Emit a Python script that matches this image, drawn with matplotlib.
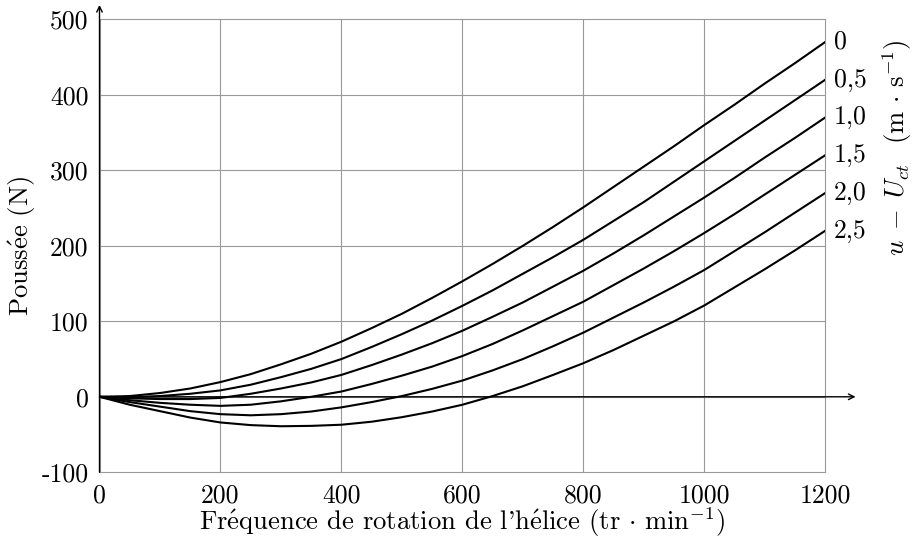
import matplotlib
matplotlib.use("Agg")
import matplotlib.pyplot as plt
import numpy as np

plt.rcParams['mathtext.fontset'] = 'cm'
plt.rcParams['font.family'] = ['cmr10', 'DejaVu Serif']

# Data
freq = [0, 50, 100, 150, 200, 250, 300, 350, 400, 450, 500, 550, 600,
        650, 700, 750, 800, 850, 900, 950, 1000, 1050, 1100, 1150, 1200]
speed_labels = ["0", "0,5", "1,0", "1,5", "2,0", "2,5"]
thrust_u00 = [0, 1, 5, 11, 19.5, 30, 43, 57, 73, 91, 110, 131, 153,
              176, 200, 225, 251, 278, 305, 332, 360, 387, 415, 442, 470]
thrust_u05 = [0, -0.5, 1, 4, 8.5, 16, 26, 37, 50, 66, 83, 101, 120.5,
              141, 163, 185, 208, 233, 258, 285, 312, 339, 366, 393, 420]
thrust_u10 = [0, -2, -3, -3, -1.5, 4, 11, 19, 29, 42, 56, 71, 87.5,
              106, 125, 146, 167, 190, 214, 239, 264, 290, 317, 343, 370]
thrust_u15 = [0, -4.5, -8, -10.5, -12, -10.5, -6, 0, 7, 17, 28, 40, 54,
              70, 88, 107, 126, 148, 170, 193, 217, 242, 268, 294, 320]
thrust_u20 = [0, -7, -13, -19, -23, -24.5, -23, -19.5, -14, -7, 1, 10.5, 21.5,
              35, 50, 67, 85, 105, 125, 146, 168, 193, 218, 244, 270]
thrust_u25 = [0, -10.5, -19, -27.5, -34, -37.5, -39, -38.5, -37, -33, -27, -19.5, -10.5,
              1, 14, 29, 44.5, 62, 81, 100, 121, 145, 169, 194, 220]
series = [thrust_u00, thrust_u05, thrust_u10, thrust_u15, thrust_u20, thrust_u25]

xticks = [0, 200, 400, 600, 800, 1000, 1200]
xtick_labels = ["0", "200", "400", "600", "800", "1000", "1200"]
yticks = [-100, 0, 100, 200, 300, 400, 500]
ytick_labels = ["-100", "0", "100", "200", "300", "400", "500"]

fig = plt.figure(figsize=(9.14, 5.42), dpi=100)
ax = fig.add_axes([99.5/914, 1-472.3/542, (825.3-99.5)/914, (472.3-19.3)/542])
ax.set_xlim(0, 1200)
ax.set_ylim(-100, 500)

for s in ax.spines.values():
    s.set_visible(False)

ax.set_xticks(xticks)
ax.set_xticklabels(xtick_labels)
ax.set_yticks(yticks)
ax.set_yticklabels(ytick_labels)
ax.tick_params(length=0, labelsize=18.5, pad=8)
ax.grid(True, color='#999999', lw=0.8, clip_on=False)
ax.set_axisbelow(True)

for y in series:
    ax.plot(freq, y, color='black', lw=1.5, solid_joinstyle='round')

for lab, y in zip(speed_labels, series):
    ax.annotate(lab, xy=(1200, y[-1]), xytext=(6, 0), textcoords='offset points',
                va='center', ha='left', fontsize=18.5, annotation_clip=False)

# axis arrows
ax.annotate('', xy=(0, 519), xytext=(0, -100), xycoords='data',
            arrowprops=dict(arrowstyle='->', lw=1.0, color='black', shrinkA=0, shrinkB=0),
            annotation_clip=False)
ax.annotate('', xy=(1250, 0), xytext=(0, 0), xycoords='data',
            arrowprops=dict(arrowstyle='->', lw=1.0, color='black', shrinkA=0, shrinkB=0),
            annotation_clip=False)

fig.text(462/914, 1-522/542,
         "Fr$\\mathrm{\\'e}$quence de rotation de l'h$\\mathrm{\\'e}$lice $(\\mathrm{tr}\\,\\cdot\\,\\mathrm{min}^{-1})$",
         ha='center', va='center', fontsize=19.2)
fig.text(22/914, 1-246/542, "Pouss$\\mathrm{\\'e}$e (N)", rotation=90,
         ha='center', va='center', fontsize=19.2)
fig.text(897/914, 1-148/542,
         r"$u\;-\;U_{ct}\;\;\;(\mathrm{m}\,\cdot\,\mathrm{s}^{-1})$", rotation=90,
         ha='center', va='center', fontsize=19.2)

fig.savefig("out.png", dpi=100)
